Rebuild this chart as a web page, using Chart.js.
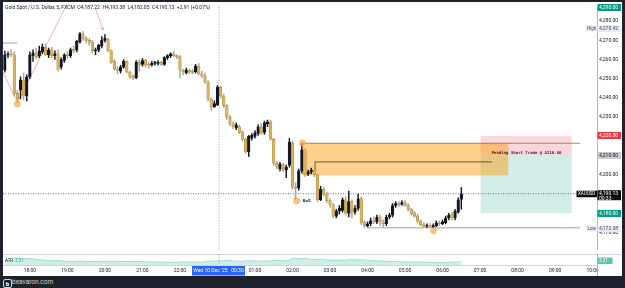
<!DOCTYPE html>
<html><head><meta charset="utf-8">
<script src="https://cdn.jsdelivr.net/npm/chart.js@4.4.0/dist/chart.umd.min.js"></script>
<style>
html,body{margin:0;padding:0;background:#1e222d;width:625px;height:288px;overflow:hidden;}
#panel{position:absolute;left:3px;top:2px;width:619px;height:274px;background:#fff;}
#c1{position:absolute;left:3px;top:2px;}
#c2{position:absolute;left:3px;top:254px;}
#footer{position:absolute;left:0;top:276px;width:625px;height:12px;background:#1e222d;}
#logo{position:absolute;left:3px;top:279px;width:7px;height:7px;border:1px solid #d1d4dc;border-radius:2px;color:#fff;font:bold 6px Roboto,sans-serif;line-height:7px;text-align:center;}
#brand{position:absolute;left:12px;top:278px;color:#d1d4dc;font:6.5px Roboto,"Liberation Sans",sans-serif;line-height:9px;}
</style></head>
<body>
<div id="panel"></div>
<canvas id="c1" width="618" height="252"></canvas>
<canvas id="c2" width="618" height="22"></canvas>
<div id="footer"></div>
<div id="logo">b</div>
<div id="brand">beavaron.com</div>
<script>
// ---- data ----
const FIRST_BAR = -8; // bar index of first candle (0 = 18:00)
const opens  = [4254.4,4262.4,4263.0,4262.5,4242.4,4244.0,4249.3,4241.0,
4251.0,4262.0,4263.5,4262.0,4264.0,4266.5,4262.5,4265.0,4262.0,4263.0,4256.0,4259.5,
4262.5,4262.0,4265.5,4265.0,4269.0,4273.0,4271.0,4270.0,4269.0,4264.5,4265.0,4267.0,
4270.0,4270.5,4264.5,4259.0,4255.0,4254.0,4256.0,4259.0,4253.5,4251.5,4250.5,4258.5,
4257.5,4259.5,4257.5,4257.0,4258.0,4258.0,4258.5,4257.5,4261.0,4262.0,4263.0,4262.0,
4261.5,4254.5,4253.0,4254.5,4254.0,4253.5,4256.5,4252.5,4251.5,4248.3,4239.3,4235.5,
4236.5,4245.5,4241.0,4236.0,4230.0,4226.5,4224.5,4225.0,4222.0,4218.5,4212.0,4219.0,
4220.0,4221.5,4225.0,4222.0,4226.5,4227.5,4218.5,4206.0,4203.0,4205.5,4202.5,4205.0,
4216.5,4193.5,4193.0,4202.0,4213.0,4200.5,4201.5,4202.5,4200.0,4187.0,4192.5,4190.0,
4186.5,4184.5,4178.5,4181.0,4181.5,4187.0,4180.0,4186.0,4180.5,4182.5,4187.5,4175.0,
4173.5,4174.5,4176.0,4175.5,4178.0,4175.5,4174.5,4178.0,4179.0,4184.0,4185.0,4184.5,
4185.5,4184.0,4182.0,4180.0,4178.5,4176.0,4174.0,4173.2,4173.6,4173.0,4173.5,4175.0,
4174.5,4175.0,4177.5,4179.5,4177.5,4180.5,4187.22];
const highs  = [4264.4,4264.0,4265.0,4264.0,4244.0,4251.0,4253.0,4252.0,
4264.0,4265.0,4266.0,4267.0,4268.0,4268.0,4266.0,4266.5,4264.5,4265.0,4261.0,4263.0,
4264.0,4266.0,4267.0,4270.0,4274.0,4274.5,4272.0,4271.0,4270.0,4266.0,4268.0,4272.0,
4273.0,4271.0,4265.0,4260.0,4256.5,4257.0,4260.0,4259.5,4254.0,4252.0,4259.5,4260.0,
4260.5,4260.0,4258.5,4259.0,4259.0,4259.5,4259.0,4261.5,4262.5,4263.5,4264.0,4262.5,
4262.0,4255.0,4255.5,4255.0,4255.0,4257.5,4258.0,4254.0,4253.0,4249.0,4240.0,4238.5,
4246.5,4246.0,4242.0,4236.5,4231.0,4227.5,4227.0,4226.0,4223.0,4219.0,4220.5,4221.5,
4223.0,4226.0,4226.5,4228.0,4228.5,4228.5,4219.0,4207.0,4206.5,4206.0,4205.0,4219.0,
4217.5,4196.0,4203.0,4216.5,4213.5,4202.5,4203.5,4203.0,4200.5,4194.0,4193.5,4191.0,
4187.5,4185.0,4182.0,4184.0,4188.0,4188.5,4191.5,4187.0,4184.0,4190.0,4188.5,4176.0,
4175.5,4177.5,4178.0,4179.0,4179.0,4176.5,4179.0,4180.0,4185.0,4186.0,4186.0,4186.5,
4186.5,4185.0,4182.5,4181.0,4179.5,4176.5,4175.0,4174.5,4174.5,4174.5,4176.0,4176.0,
4176.5,4178.5,4180.0,4180.5,4182.0,4188.0,4193.38];
const lows   = [4253.4,4261.0,4261.5,4241.0,4237.5,4239.5,4239.0,4238.5,
4250.0,4259.0,4260.5,4261.0,4263.0,4262.0,4261.0,4261.0,4260.0,4254.0,4255.0,4258.5,
4260.5,4261.0,4263.5,4264.0,4268.5,4270.0,4268.5,4267.5,4263.5,4262.5,4264.0,4266.0,
4269.0,4264.0,4258.0,4254.5,4252.5,4253.0,4255.5,4253.0,4250.0,4249.5,4250.0,4254.0,
4256.5,4256.0,4255.5,4256.5,4257.0,4257.0,4257.0,4257.0,4260.0,4261.0,4261.5,4260.5,
4250.5,4252.0,4252.5,4252.5,4252.5,4253.0,4252.0,4250.5,4247.5,4238.5,4233.5,4235.0,
4236.0,4240.0,4235.0,4229.0,4225.5,4224.0,4223.5,4221.5,4217.5,4211.0,4209.5,4218.0,
4219.0,4220.5,4221.0,4221.0,4225.0,4218.0,4205.0,4203.0,4202.0,4201.5,4198.5,4204.0,
4192.5,4187.0,4192.0,4201.0,4199.0,4199.5,4200.5,4199.0,4186.0,4186.5,4189.0,4185.5,
4183.0,4177.5,4177.5,4179.5,4180.5,4179.0,4178.0,4177.5,4179.5,4181.5,4174.0,4172.38,
4172.8,4173.5,4174.5,4174.5,4173.5,4173.0,4173.5,4177.0,4178.0,4183.0,4183.5,4184.0,
4183.5,4181.0,4179.0,4178.0,4175.0,4173.5,4172.6,4172.6,4172.5,4172.5,4173.0,4173.5,
4174.0,4174.5,4176.5,4176.5,4176.5,4180.0,4182.05];
const closes = [4262.4,4263.0,4262.5,4242.4,4239.5,4249.3,4241.0,4251.0,
4262.5,4263.5,4261.5,4264.5,4266.5,4262.5,4265.0,4262.0,4263.0,4255.0,4260.0,4262.5,
4262.0,4265.0,4264.5,4269.5,4273.5,4271.0,4270.0,4269.0,4264.5,4265.0,4267.5,4270.0,
4271.0,4264.5,4258.5,4255.0,4254.5,4256.0,4259.0,4253.5,4251.0,4250.5,4258.5,4257.5,
4259.5,4257.0,4257.0,4258.0,4258.3,4258.5,4257.5,4261.0,4262.0,4263.0,4262.0,4261.3,
4254.5,4253.5,4254.5,4253.5,4253.3,4256.5,4252.5,4251.5,4248.3,4239.3,4235.5,4237.0,
4245.5,4241.0,4236.0,4230.0,4226.5,4225.0,4226.0,4222.0,4218.5,4212.0,4220.0,4220.5,
4222.0,4225.0,4222.0,4227.0,4227.5,4218.5,4206.0,4204.0,4205.5,4202.5,4204.0,4217.0,
4193.5,4193.0,4202.0,4213.0,4200.0,4201.5,4202.5,4200.0,4187.0,4192.5,4190.0,4186.5,
4184.5,4178.5,4181.0,4182.5,4187.0,4180.0,4186.0,4180.0,4182.5,4187.5,4175.0,4173.5,
4174.5,4176.0,4175.5,4178.0,4175.5,4174.5,4178.0,4179.0,4184.0,4185.0,4184.5,4185.5,
4184.0,4182.0,4179.5,4178.5,4176.0,4174.0,4173.0,4173.6,4173.0,4173.5,4175.0,4174.5,
4175.5,4177.5,4179.0,4177.5,4181.0,4187.0,4190.13];
const atrValues = [3.6,3.5,3.4,5.8,5.6,5.3,5.0,5.2,
5.3,4.9,4.6,4.3,4.1,3.9,3.7,3.5,3.4,3.6,3.4,3.2,
3.0,2.9,2.8,2.9,3.2,3.0,2.9,2.8,2.9,2.8,2.7,2.8,
2.7,2.9,3.0,3.0,2.9,2.8,2.7,2.9,2.8,2.7,3.0,2.9,
2.8,2.7,2.6,2.5,2.4,2.3,2.3,2.4,2.3,2.2,2.2,2.1,
2.6,2.5,2.4,2.3,2.3,2.4,2.5,2.4,2.5,3.1,3.2,3.1,
3.5,3.4,3.5,3.6,3.5,3.3,3.2,3.1,3.1,3.3,3.6,3.4,
3.3,3.3,3.2,3.3,3.2,3.4,3.8,3.6,3.5,3.4,3.6,4.0,
5.3,5.4,5.1,5.2,5.3,5.0,4.7,4.5,4.7,4.6,4.4,4.2,
4.0,4.1,3.9,3.8,3.9,4.0,4.4,4.3,4.1,4.0,4.3,4.1,
3.9,3.7,3.5,3.4,3.3,3.2,3.1,3.0,3.0,2.9,2.8,2.7,
2.6,2.6,2.5,2.5,2.5,2.4,2.3,2.3,2.2,2.2,2.1,2.1,
2.1,2.2,2.2,2.3,2.3,2.6,2.7];
const tickBars   = [0,12,24,36,48,60,72,84,96,108,120,132,144,156,168,180];
const tickLabels = ['18:00','19:00','20:00','21:00','22:00','','01:00','02:00','03:00','04:00','05:00','06:00','07:00','08:00','09:00','10:00'];
const priceTicks = [4170,4180,4190,4200,4210,4220,4230,4240,4250,4260,4270,4280];
// drawing tool values (bar index / price)
const orangeZone = {from: 86.9, to: 153, low: 4199.7, high: 4216.4};
const stopZone   = {from: 144.2, to: 173.3, low: 4210.0, high: 4220.3};
const targetZone = {from: 144.2, to: 173.3, low: 4180.0, high: 4210.0};
const swingCircles = [[-4, 4236.85],[87.2, 4216.6],[85.3, 4186.35],[129.1, 4170.85]];
const lastPrice = 4190.13, dayHigh = 4278.42, dayLow = 4172.38;

const FONT = 'Roboto, "Liberation Sans", sans-serif';
const UP = '#131722', DOWN = '#d9b25c', DOWN_EDGE = '#a9873a', DOWN_WICK = '#a8a296';
const X_MIN = -8.6, X_MAX = 181.4;

const bodies = opens.map((o,k)=>({x: FIRST_BAR+k, y:[o, closes[k]]}));
const wicks  = lows.map((l,k)=>({x: FIRST_BAR+k, y:[l, highs[k]]}));
const isUp = i => closes[i] >= opens[i];
const fmt = v => v.toLocaleString('en-US',{minimumFractionDigits:2, maximumFractionDigits:2});

function axisLabel(ctx, y, text, bg, fg, x0, w, h){
  ctx.fillStyle = bg; ctx.fillRect(x0, Math.round(y - h/2), w, h);
  ctx.fillStyle = fg; ctx.font = '5px ' + FONT; ctx.textBaseline = 'middle'; ctx.textAlign = 'left';
  ctx.fillText(text, x0 + 1.5, y + 0.3);
}

const drawings1 = {
  id: 'drawings1',
  beforeDatasetsDraw(chart){
    const {ctx, scales:{x, y}} = chart;
    const px = v => x.getPixelForValue(v), py = v => y.getPixelForValue(v);
    ctx.save();
    ctx.fillStyle = 'rgba(242,54,69,0.2)';
    ctx.fillRect(px(stopZone.from), py(stopZone.high), px(stopZone.to)-px(stopZone.from), py(stopZone.low)-py(stopZone.high));
    ctx.fillStyle = 'rgba(8,153,129,0.18)';
    ctx.fillRect(px(targetZone.from), py(targetZone.high), px(targetZone.to)-px(targetZone.from), py(targetZone.low)-py(targetZone.high));
    ctx.fillStyle = 'rgba(255,152,0,0.45)';
    ctx.fillRect(px(orangeZone.from), py(orangeZone.high), px(orangeZone.to)-px(orangeZone.from), py(orangeZone.low)-py(orangeZone.high));
    const line = (x1,y1,x2,y2,col,w,dash)=>{ctx.beginPath();ctx.setLineDash(dash||[]);ctx.strokeStyle=col;ctx.lineWidth=w;ctx.moveTo(px(x1),py(y1));ctx.lineTo(px(x2),py(y2));ctx.stroke();};
    line(orangeZone.from, orangeZone.high, 176, orangeZone.high, '#7d6d5a', 0.8);
    line(91.2, 4206.7, 147.8, 4206.7, '#3c3a36', 0.8);
    line(91.2, 4206.7, 91.2, 4202.0, '#3c3a36', 0.8);
    line(108, dayLow, 176, dayLow, '#8a8a8a', 0.8);
    line(X_MIN, 4268.6, -4, 4268.6, '#8a8a8a', 0.8);
    line(X_MIN, 4253.35, -4, 4237.6, '#f08a98', 0.7);
    line(-4, 4237.6, 11.8, 4288.5, '#f08a98', 0.7);
    line(21.0, 4286.5, 23.4, 4275.4, '#f08a98', 0.7);
    ctx.setLineDash([]);
    ctx.beginPath(); ctx.strokeStyle='#f08a98'; ctx.lineWidth=0.7;
    const ax = px(23.4), ay = py(4275.4);
    ctx.moveTo(ax-2.5, ay-2); ctx.lineTo(ax, ay); ctx.lineTo(ax+0.8, ay-3); ctx.stroke();
    line(60.5, 4287.4, 60.5, 4161.3, '#9598a1', 0.8, [1.2,1.6]);
    line(X_MIN, lastPrice, X_MAX, lastPrice, '#4a4a4a', 0.8, [1,1.5]);
    ctx.restore();
  },
  afterDatasetsDraw(chart){
    const {ctx, scales:{x, y}} = chart;
    const px = v => x.getPixelForValue(v), py = v => y.getPixelForValue(v);
    ctx.save();
    swingCircles.forEach(([b,p])=>{
      ctx.beginPath(); ctx.arc(px(b), py(p), 3.4, 0, Math.PI*2);
      ctx.fillStyle='rgba(250,170,70,0.7)'; ctx.fill();
    });
    ctx.beginPath(); ctx.strokeStyle='#8a8a8a'; ctx.lineWidth=0.6;
    ctx.moveTo(px(85.3)+3, py(4186.35)); ctx.lineTo(px(86.3)+1, py(4186.35)); ctx.stroke();
    ctx.fillStyle='#2a2e39'; ctx.font='bold 4.3px '+FONT; ctx.textBaseline='middle'; ctx.textAlign='left';
    ctx.fillText('BoS', px(87.3), py(4186.35));
    ctx.font='bold 4px "DejaVu Sans Mono", monospace'; ctx.fillStyle='#2a2e39'; ctx.textBaseline='alphabetic';
    ctx.fillText('Pending Short Trade @ 4210.00', px(147.7), py(4210.6));
    ctx.font='5px '+FONT; ctx.fillStyle='#131722'; ctx.textBaseline='middle';
    ctx.fillText('Gold Spot / U.S. Dollar, 5, FXCM  O4,187.22  H4,193.38  L4,182.05  C4,190.13  +2.91 (+0.07%)', 2, 5.5);
    const ax0 = chart.chartArea.right + 0.5, aw = 23.5;
    axisLabel(ctx, 5, '4,290.00', '#089981', '#fff', ax0, aw, 7);
    axisLabel(ctx, 26.3, fmt(dayHigh), '#e9ecf5', '#4a4e5a', ax0, aw, 7);
    ctx.fillStyle='#e9ecf5'; ctx.fillRect(ax0-12, 23, 11.5, 6.5);
    ctx.fillStyle='#4a4e5a'; ctx.font='4.5px '+FONT; ctx.fillText('High', ax0-10.5, 26.5);
    axisLabel(ctx, py(4220.3), fmt(4220.3), '#f23645', '#fff', ax0, aw, 7);
    axisLabel(ctx, py(4210), fmt(4210), '#c8cad0', '#131722', ax0, aw, 7);
    axisLabel(ctx, py(4180), fmt(4180), '#089981', '#fff', ax0, aw, 7);
    axisLabel(ctx, py(dayLow)+0.8, fmt(dayLow), '#e9ecf5', '#4a4e5a', ax0, aw, 6);
    ctx.fillStyle='#e9ecf5'; ctx.fillRect(ax0-12, py(dayLow)-2.2, 11.5, 6);
    ctx.fillStyle='#4a4e5a'; ctx.font='4.5px '+FONT; ctx.fillText('Low', ax0-10, py(dayLow)+0.8);
    const ly = py(lastPrice);
    ctx.fillStyle='#0b0b0e'; ctx.fillRect(ax0, ly-3.5, aw, 10);
    ctx.fillStyle='#fff'; ctx.font='5px '+FONT; ctx.fillText(fmt(lastPrice), ax0+1.5, ly+0.2);
    ctx.fillText('00:33', ax0+1.5, ly+4.8);
    ctx.fillStyle='#0b0b0e'; ctx.fillRect(ax0-21, ly-3, 20.5, 6.5);
    ctx.fillStyle='#fff'; ctx.font='4.5px '+FONT; ctx.fillText('XAUUSD', ax0-19.5, ly+0.3);
    ctx.restore();
  }
};

new Chart(document.getElementById('c1'), {
  type: 'bar',
  data: { datasets: [
    { data: bodies, order: 0, grouped: false, barThickness: 2.6, minBarLength: 1, borderSkipped: false,
      backgroundColor: c => isUp(c.dataIndex) ? UP : DOWN,
      borderColor: c => isUp(c.dataIndex) ? UP : DOWN_EDGE, borderWidth: 0.5 },
    { data: wicks, order: 1, grouped: false, barThickness: 0.8,
      backgroundColor: c => isUp(c.dataIndex) ? UP : DOWN_WICK, borderWidth: 0 }
  ]},
  options: {
    responsive: false, animation: false, devicePixelRatio: 1,
    layout: {padding: 0},
    plugins: {legend: {display: false}, tooltip: {enabled: false}},
    scales: {
      x: {type: 'linear', min: X_MIN, max: X_MAX, offset: false, display: false},
      y: {position: 'right', min: 4161.35, max: 4287.35,
          grid: {display: false, drawTicks: false, tickLength: 0}, border: {display: true, color: '#b2b5be', width: 1},
          ticks: {font: {size: 5, family: FONT}, color: '#131722', padding: 2, callback: v => fmt(v)},
          afterBuildTicks: s => { s.ticks = priceTicks.map(v => ({value: v})); },
          afterFit: s => { s.width = 24; }}
    }
  },
  plugins: [drawings1]
});

const drawings2 = {
  id: 'drawings2',
  afterDraw(chart){
    const {ctx, scales:{x, y}, chartArea:a} = chart;
    ctx.save();
    ctx.strokeStyle='#d1d4dc'; ctx.lineWidth=1;
    ctx.beginPath(); ctx.moveTo(0, 0.5); ctx.lineTo(618, 0.5); ctx.stroke();
    ctx.fillStyle='#fff'; ctx.fillRect(a.right+0.5, a.bottom+0.5, 30, 20);
    ctx.strokeStyle='#b2b5be';
    ctx.beginPath(); ctx.moveTo(a.right+0.5, 0); ctx.lineTo(a.right+0.5, 22); ctx.stroke();
    ctx.setLineDash([1.2,1.6]); ctx.strokeStyle='#9598a1'; ctx.lineWidth=0.8;
    const cx = x.getPixelForValue(60.5);
    ctx.beginPath(); ctx.moveTo(cx, 0); ctx.lineTo(cx, a.bottom); ctx.stroke(); ctx.setLineDash([]);
    ctx.fillStyle='#2962ff'; ctx.fillRect(cx-27, a.bottom+1, 53, 9.5);
    ctx.fillStyle='#fff'; ctx.font='5px '+FONT; ctx.textBaseline='middle'; ctx.textAlign='center';
    ctx.fillText("Wed 10 Dec '25   00:30", cx-0.5, a.bottom+6);
    ctx.textAlign='left'; ctx.font='4.5px '+FONT; ctx.fillStyle='#2a2e39';
    ctx.fillText('ATR', 2, 6.5); ctx.fillStyle='#26a69a'; ctx.fillText('3.31', 12, 6.5);
    ctx.fillStyle='#5fc2ae'; ctx.fillRect(a.right+0.5, 3.5, 15, 6.5);
    ctx.fillStyle='#fff'; ctx.fillText('3.31', a.right+2, 6.9);
    ctx.restore();
  }
};

new Chart(document.getElementById('c2'), {
  type: 'line',
  data: { datasets: [
    { data: atrValues.map((v,k)=>({x: FIRST_BAR+k, y: v})), borderColor: '#8fd3c4', borderWidth: 0.8,
      backgroundColor: 'rgba(120,205,185,0.35)', fill: 'start', pointRadius: 0, tension: 0 }
  ]},
  options: {
    responsive: false, animation: false, devicePixelRatio: 1,
    layout: {padding: 0},
    plugins: {legend: {display: false}, tooltip: {enabled: false}},
    scales: {
      x: {type: 'linear', min: X_MIN, max: X_MAX, offset: false,
          grid: {display: false, drawTicks: false, tickLength: 0}, border: {display: true, color: '#d1d4dc'},
          ticks: {font: {size: 5, family: FONT}, color: '#131722', padding: 2.5, maxRotation: 0, autoSkip: false,
                  callback: v => { const k = tickBars.indexOf(v); return k >= 0 ? tickLabels[k] : ''; }},
          afterBuildTicks: s => { s.ticks = tickBars.map(v => ({value: v})); },
          afterFit: s => { s.height = 11; }},
      y: {position: 'right', min: 0, max: 9,
          grid: {display: false, drawTicks: false, tickLength: 0}, border: {display: true, color: '#b2b5be'},
          ticks: {display: false},
          afterFit: s => { s.width = 24; }}
    }
  },
  plugins: [drawings2]
});
</script>
</body></html>
